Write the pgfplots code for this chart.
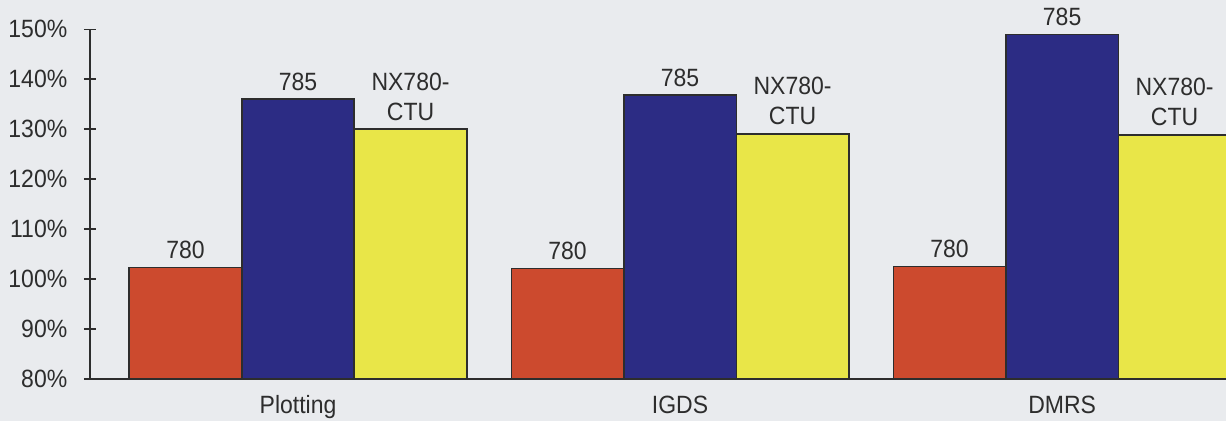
\documentclass[border=0pt]{standalone}
\usepackage{fontspec}
\setmainfont[FakeStretch=0.92]{Liberation Sans}
\usepackage{pgfplots}
\pgfplotsset{compat=1.18}
\definecolor{bg}{RGB}{233,235,238}
\definecolor{cred}{RGB}{204,74,46}
\definecolor{cblue}{RGB}{44,44,132}
\definecolor{cyel}{RGB}{233,230,72}
\definecolor{ink}{RGB}{45,45,45}
\begin{document}
\fontsize{12.5}{15}\selectfont
\begin{tikzpicture}
\fill[bg] (-45pt,-21pt) rectangle (568pt,189.5pt);
\path[use as bounding box] (-45pt,-21pt) rectangle (568pt,189.5pt);
\begin{axis}[
  at={(0,0)}, anchor=south west,
  scale only axis, width=568pt, height=174.85pt,
  xmin=-0.5445, xmax=2.429, ymin=80, ymax=150,
  clip=false,
  axis lines=left,
  axis line style={-, line width=0.8pt, draw=ink},
  ytick={80,90,...,150},
  yticklabel={\pgfmathprintnumber{\tick}\%},
  /pgf/number format/assume math mode=true,
  tick align=center, major tick length=6pt,
  y tick style={line width=0.8pt, draw=ink},
  xtick={0,1,2}, xticklabels={Plotting,IGDS,DMRS},
  x tick style={draw=none},
  yticklabel style={xshift=-4pt, text=ink},
  xticklabel style={yshift=-1pt, text=ink},
  every node near coord/.append style={text=ink, align=center, inner sep=2pt, yshift=2pt},
]
% red: 780
\addplot[ybar, bar width=0.2945, bar shift=0, fill=cred, draw=ink, line width=0.8pt,
  nodes near coords={780}] coordinates {(-0.2945,102.3) (0.7055,102.1) (1.7055,102.5)};
% blue: 785
\addplot[ybar, bar width=0.2945, bar shift=0, fill=cblue, draw=ink, line width=0.8pt,
  nodes near coords={785}] coordinates {(0,136.0) (1,136.8) (2,149.0)};
% yellow: NX780-CTU
\addplot[ybar, bar width=0.2945, bar shift=0, fill=cyel, draw=ink, line width=0.8pt,
  nodes near coords={NX780-\\CTU}] coordinates {(0.2945,130.0) (1.2945,129.1) (2.2945,128.9)};
\end{axis}
\end{tikzpicture}
\end{document}
